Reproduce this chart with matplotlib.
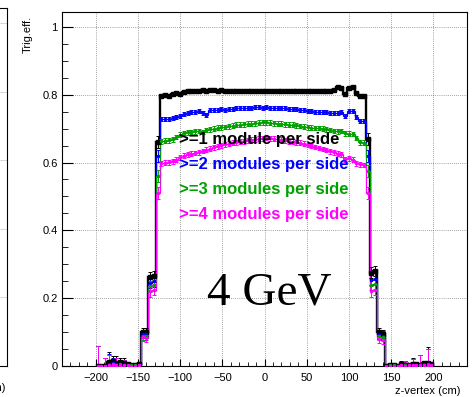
import numpy as np
import matplotlib.pyplot as plt
from matplotlib.ticker import MultipleLocator

plt.rcParams['font.family'] = ['Liberation Sans', 'DejaVu Sans']

# 90 bins, -200..200 cm
edges = np.linspace(-200, 200, 91)
centers = 0.5 * (edges[:-1] + edges[1:])

# >=1 module per side
eff1 = ([0, 0, 0, 0.012, 0.015, 0.01, 0.012, 0.008, 0.005, 0.004, 0.003, 0.005]
        + [0.100, 0.100, 0.262, 0.265, 0.660]
        + [0.797, 0.798, 0.797, 0.801, 0.804, 0.803, 0.808, 0.810, 0.812, 0.812,
           0.811, 0.813, 0.812, 0.814, 0.813, 0.812, 0.813, 0.812, 0.811, 0.812,
           0.810, 0.812, 0.811, 0.812, 0.810, 0.811, 0.812, 0.810, 0.811, 0.810,
           0.812, 0.811, 0.810, 0.811, 0.812, 0.810, 0.811, 0.810, 0.812, 0.810,
           0.811, 0.812, 0.810, 0.811, 0.810, 0.812, 0.813, 0.824, 0.820, 0.802,
           0.819, 0.823, 0.806, 0.797, 0.795]
        + [0.670, 0.275, 0.280, 0.100, 0.095]
        + [0, 0.004, 0.003, 0, 0.005, 0.003, 0.004, 0.006, 0.005, 0.004, 0.008, 0.01, 0.005])

# >=2 modules per side
eff2 = ([0, 0, 0, 0.005, 0.008, 0.005, 0.006, 0.004, 0.003, 0.002, 0.002, 0.003]
        + [0.095, 0.095, 0.245, 0.250, 0.620]
        + [0.728, 0.727, 0.729, 0.730, 0.735, 0.738, 0.743, 0.746, 0.748, 0.750,
           0.751, 0.745, 0.741, 0.754, 0.755, 0.756, 0.757, 0.756, 0.758, 0.759,
           0.760, 0.760, 0.761, 0.762, 0.762, 0.763, 0.763, 0.762, 0.763, 0.762,
           0.762, 0.761, 0.761, 0.760, 0.759, 0.758, 0.758, 0.756, 0.755, 0.752,
           0.751, 0.750, 0.748, 0.748, 0.749, 0.747, 0.746, 0.745, 0.748, 0.737,
           0.751, 0.752, 0.735, 0.723, 0.722]
        + [0.620, 0.255, 0.258, 0.092, 0.090]
        + [0, 0.002, 0.002, 0, 0.003, 0.002, 0.002, 0.004, 0.003, 0.003, 0.005, 0.006, 0.003])

# >=3 modules per side
eff3 = ([0, 0, 0, 0.004, 0.006, 0.004, 0.005, 0.003, 0.002, 0.002, 0.002, 0.002]
        + [0.090, 0.088, 0.235, 0.238, 0.560]
        + [0.663, 0.664, 0.665, 0.668, 0.675, 0.682, 0.687, 0.689, 0.690, 0.692,
           0.693, 0.690, 0.696, 0.698, 0.700, 0.703, 0.704, 0.705, 0.707, 0.709,
           0.711, 0.712, 0.713, 0.714, 0.715, 0.716, 0.717, 0.718, 0.718, 0.717,
           0.716, 0.715, 0.714, 0.713, 0.712, 0.711, 0.710, 0.708, 0.706, 0.704,
           0.703, 0.702, 0.702, 0.700, 0.698, 0.696, 0.693, 0.692, 0.693, 0.686,
           0.685, 0.684, 0.672, 0.660, 0.658]
        + [0.575, 0.240, 0.242, 0.088, 0.085]
        + [0, 0.002, 0.002, 0, 0.002, 0.002, 0.002, 0.003, 0.003, 0.002, 0.004, 0.005, 0.002])

# >=4 modules per side
eff4 = ([0, 0, 0, 0.003, 0.005, 0.003, 0.004, 0.002, 0.002, 0.001, 0.001, 0.002]
        + [0.085, 0.082, 0.220, 0.225, 0.510]
        + [0.598, 0.600, 0.601, 0.603, 0.608, 0.615, 0.620, 0.624, 0.626, 0.628,
           0.630, 0.634, 0.638, 0.641, 0.645, 0.648, 0.651, 0.654, 0.656, 0.658,
           0.660, 0.662, 0.663, 0.665, 0.667, 0.668, 0.670, 0.671, 0.672, 0.671,
           0.670, 0.669, 0.667, 0.665, 0.663, 0.661, 0.660, 0.658, 0.655, 0.652,
           0.649, 0.646, 0.643, 0.640, 0.637, 0.633, 0.630, 0.626, 0.624, 0.609,
           0.612, 0.608, 0.598, 0.595, 0.593]
        + [0.510, 0.220, 0.225, 0.080, 0.078]
        + [0, 0.001, 0.001, 0, 0.002, 0.001, 0.002, 0.002, 0.002, 0.002, 0.003, 0.004, 0.002])

# upper errors in the tails (few entries -> large)
tail_up_left = [0.06, 0.004, 0.025, 0.03, 0.015, 0.02, 0.012, 0.015, 0.008, 0.006, 0.006, 0.005]
tail_up_right = [0.003, 0.003, 0.004, 0.004, 0.01, 0.012, 0.004, 0.018, 0.004, 0.03, 0.005, 0.045, 0.004]
edge_err_left = [0.012, 0.012, 0.016, 0.016, 0.018]
edge_err_right = [0.018, 0.016, 0.016, 0.012, 0.012]
plateau_err = {'eff1': 0.004, 'eff2': 0.006, 'eff3': 0.007, 'eff4': 0.007}

labels = ['>=1 module per side', '>=2 modules per side',
          '>=3 modules per side', '>=4 modules per side']
colors = ['black', '#0000ff', '#00a000', '#ff00ff']

fig = plt.figure(figsize=(4.75, 3.97), dpi=100)

# neighbouring pad, only its right edge is visible
axl = fig.add_axes([0.0154 - 0.85, 0.078, 0.85, 0.902])
axl.set_xlim(-240, 240)
axl.set_ylim(0, 1.044)
axl.yaxis.set_major_locator(MultipleLocator(0.2))
axl.xaxis.set_major_locator(MultipleLocator(50))
axl.grid(True, color='black', lw=0.5, linestyle=(0, (1, 2)), alpha=0.7)
axl.tick_params(labelleft=False, labelbottom=False, length=0)
fig.text(6.0 / 475, 9.0 / 397, 'z-vertex (cm)', fontsize=8, ha='right', va='center')

ax = fig.add_axes([62 / 475, 0.078, 405 / 475, 0.892])

series = [eff1, eff2, eff3, eff4]
keys = ['eff1', 'eff2', 'eff3', 'eff4']
for vals, key, col in zip(series, keys, colors):
    vals = np.array(vals)
    err = np.array(tail_up_left + edge_err_left + [plateau_err[key]] * 55
                   + edge_err_right + tail_up_right)
    lo = np.minimum(vals, err)
    black = key == 'eff1'
    ax.stairs(vals, edges, color=col, lw=1.7 if black else 0.9, zorder=3)
    ax.errorbar(centers, vals, yerr=[lo, err], fmt='s', color=col,
                ms=2.2 if black else 1.3, elinewidth=0.7,
                capsize=1.5, capthick=0.7, zorder=4)

ax.set_xlim(-240, 240)
ax.set_ylim(0, 1.044)
ax.xaxis.set_minor_locator(MultipleLocator(10))
ax.yaxis.set_minor_locator(MultipleLocator(0.05))
ax.set_xticks([-200, -150, -100, -50, 0, 50, 100, 150, 200])
ax.set_yticks([0, 0.2, 0.4, 0.6, 0.8, 1.0])
ax.set_yticklabels(['0', '0.2', '0.4', '0.6', '0.8', '1'])
ax.tick_params(axis='both', which='both', direction='in', labelsize=8,
               top=False, right=False)
ax.tick_params(axis='x', which='major', length=5, pad=5)
ax.tick_params(axis='x', which='minor', length=3)
ax.tick_params(axis='y', which='major', length=8, pad=3)
ax.tick_params(axis='y', which='minor', length=4.3)
ax.grid(True, which='major', color='black', lw=0.5, linestyle=(0, (1, 2)), alpha=0.7)
ax.set_axisbelow(True)

ax.text(-0.084, 0.99, 'Trig.eff.', transform=ax.transAxes, rotation=90,
        ha='center', va='top', fontsize=8)
ax.text(0.985, -0.055, 'z-vertex (cm)', transform=ax.transAxes,
        ha='right', va='top', fontsize=8)

for lab, col, yy in zip(labels, colors, [0.667, 0.593, 0.52, 0.448]):
    ax.text(-101, yy, lab, color=col, fontsize=12, fontweight='bold',
            ha='left', va='center', zorder=6)

ax.text(-68, 0.18, '4 GeV', fontsize=34, family='Liberation Serif',
        ha='left', va='baseline', zorder=6)

fig.savefig('out.png', dpi=100)
